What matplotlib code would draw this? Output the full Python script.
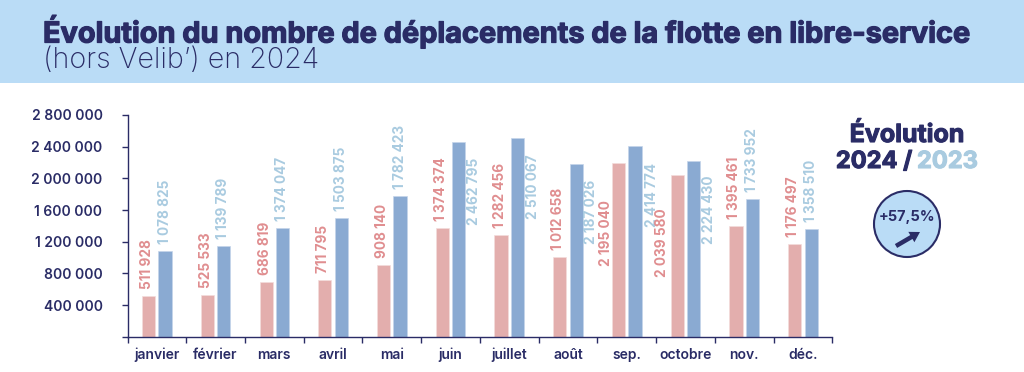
"""
Deplacements de la flotte en libre-service, 2024 vs 2023
"""

### Import modules
import numpy as np
import matplotlib
matplotlib.use('Agg')
import matplotlib.pyplot as plt
from matplotlib.patches import Circle, Rectangle, FancyArrow
import matplotlib.patheffects as pe

### Data
months = ['janvier','février','mars','avril','mai','juin','juillet','août',
          'sep.','octobre','nov.','déc.']
values2024 = [511928,525533,686819,711795,908140,1374374,1282456,1012658,
              2195040,2039580,1395461,1176497]
values2023 = [1078825,1139789,1374047,1503875,1782423,2462795,2510067,2187026,
              2414774,2224430,1733952,1358510]
yticks = [400000,800000,1200000,1600000,2000000,2400000,2800000]

### Labels that do not sit on top of their bar: month index -> (dx,dy) in px
moved2024 = {8:(-13,37),9:(-15,33)}
moved2023 = {5:(15.5,16),6:(15.5,16),7:(15,16),8:(17,17),9:(15,15)}

### Colours
navy = '#2a2c66'
band = '#badcf6'
barpink = '#e3aead'
barblue = '#8aaad2'
txtpink = '#e08e90'
txtblue = '#a9cbe0'

plt.rcParams['font.family'] = ['Inter','DejaVu Sans']

def fmt(v):
    return f'{v:,}'.replace(',',' ')

### Thickens the heavy text a bit, Inter bold is lighter than the original
def heavy(color,w=0.5):
    return [pe.withStroke(linewidth=w,foreground=color)]

W,H = 1024,372
fig = plt.figure(figsize=(W/100,H/100),dpi=100)

### Overlay in pixel coordinates for the header and the right hand side
bg = fig.add_axes([0,0,1,1])
bg.set_xlim(0,W)
bg.set_ylim(H,0)
bg.axis('off')
bg.add_patch(Rectangle((0,0),W,83,color=band,lw=0))
bg.text(43,32,'Évolution du nombre de déplacements de la flotte en libre-service',
        fontsize=20.8,fontweight='bold',color=navy,va='center',ha='left',
        path_effects=heavy(navy,0.9))
bg.text(43,60,'(hors Velib’) en 2024',fontsize=20.6,color=navy,va='center',
        ha='left',fontweight='light')

bg.text(907,135,'Évolution',fontsize=18,fontweight='bold',color=navy,
        ha='center',va='center',path_effects=heavy(navy,0.8))
bg.text(912,162,'2024 /',fontsize=17,fontweight='bold',color=navy,
        ha='right',va='center',path_effects=heavy(navy,0.8))
bg.text(917,162,'2023',fontsize=17,fontweight='bold',color=txtblue,
        ha='left',va='center',path_effects=heavy(txtblue,0.8))
bg.add_patch(Circle((907,224),33,facecolor=band,edgecolor=navy,lw=1.5))
bg.text(907,217,'+57,5%',fontsize=10.5,fontweight='bold',color=navy,
        ha='center',va='center')
bg.add_patch(FancyArrow(896,246,24,-14,width=4.5,head_width=12,head_length=10,
                        length_includes_head=True,color=navy,lw=0))

### Bars
left,right,top,bottom = 127.5,832.3,115,336.7
ax = fig.add_axes([left/W,1-bottom/H,(right-left)/W,(bottom-top)/H])
ax.patch.set_alpha(0)
x = np.arange(len(months))
ax.bar(x-0.14,values2024,0.225,color=barpink,edgecolor='#f3dcdc',lw=0.5)
ax.bar(x+0.14,values2023,0.225,color=barblue,edgecolor='#c5d5ea',lw=0.5)
ax.set_xlim(-0.5,11.5)
ax.set_ylim(0,2800000)

### Value labels
def label(xi,v,moved,i,color,dxdefault):
    if i in moved:
        dx,dy = moved[i]
        off,va = (dx,-dy),'top'
    else:
        off,va = (dxdefault,7),'bottom'
    ### offset points, 1 px = 0.72 pt at 100 dpi
    ax.annotate(fmt(v),(xi,v),xytext=(off[0]*0.72,off[1]*0.72),
                textcoords='offset points',rotation=90,ha='center',va=va,
                fontsize=9.8,fontweight='bold',color=color,
                annotation_clip=False)

for i in range(len(months)):
    label(x[i]-0.14,values2024[i],moved2024,i,txtpink,-1.5)
    label(x[i]+0.14,values2023[i],moved2023,i,txtblue,-0.5)

### Axes
for loc in ['top','right']:
    ax.spines[loc].set_visible(False)
for loc in ['left','bottom']:
    ax.spines[loc].set_color(navy)
    ax.spines[loc].set_linewidth(1)
ax.spines['bottom'].set_bounds(-0.5,11.5)
ax.set_yticks([0]+yticks)
ax.set_yticklabels(['']+[fmt(v) for v in yticks],fontsize=10,
                   fontweight='semibold',color=navy)
ax.tick_params(axis='y',length=4.5,width=1,color=navy,pad=13.5)
ax.set_xticks(np.arange(-0.5,12,1))
ax.set_xticklabels([])
ax.tick_params(axis='x',length=4,width=1,color=navy)
ax.set_xticks(x,minor=True)
ax.set_xticklabels(months,minor=True,fontsize=10,fontweight='semibold',
                   color=navy)
ax.tick_params(axis='x',which='minor',length=0,pad=8)

plt.savefig('out.png',dpi=100)
